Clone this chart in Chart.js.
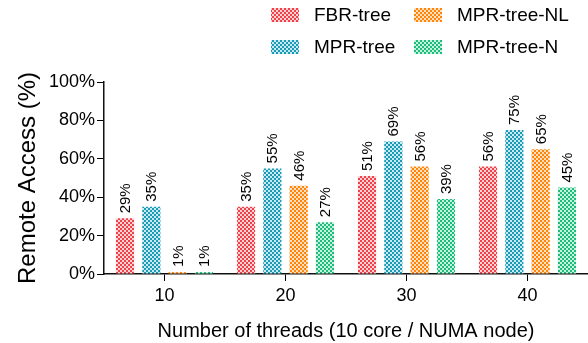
<!DOCTYPE html>
<html lang="en">
<head>
  <meta charset="UTF-8">
  <title>Remote Access</title>
  <script src="https://cdn.jsdelivr.net/npm/chart.js"></script>
  <style>
    body {
      margin: 0;
      background: #fff;
    }
    #wrap {
      width: 588px;
      height: 343px;
    }
  </style>
</head>
<body>
  <div id="wrap"><canvas id="remoteChart"></canvas></div>

  <script>
    const threads = ['10', '20', '30', '40'];
    const fbrTree = [29, 35, 51, 56];
    const mprTree = [35, 55, 69, 75];
    const mprTreeNL = [1, 46, 56, 65];
    const mprTreeN = [1, 27, 39, 45];
    const yTicks = [0, 20, 40, 60, 80, 100];

    const FONT = '"Liberation Sans", Arial, sans-serif';

    // small checkerboard fill, like the hatched bars in the original
    function checker(color, light) {
      const c = document.createElement('canvas');
      c.width = 4;
      c.height = 4;
      const g = c.getContext('2d');
      g.fillStyle = light;
      g.fillRect(0, 0, 4, 4);
      g.fillStyle = color;
      g.fillRect(0, 0, 2, 2);
      g.fillRect(2, 2, 2, 2);
      return g.createPattern(c, 'repeat');
    }

    function dataset(label, data, color, light) {
      return {
        label: label,
        data: data,
        backgroundColor: checker(color, light),
        borderWidth: 0
      };
    }

    const datasets = [
      dataset('FBR-tree', fbrTree, '#f0404a', '#fcd3d5'),
      dataset('MPR-tree', mprTree, '#1a9ab4', '#c9eaf0'),
      dataset('MPR-tree-NL', mprTreeNL, '#ff850a', '#ffe0c0'),
      dataset('MPR-tree-N', mprTreeN, '#1cbd7b', '#c8f0df')
    ];

    // rotated percent labels above each bar
    const valueLabels = {
      id: 'valueLabels',
      afterDatasetsDraw(chart) {
        const ctx = chart.ctx;
        ctx.save();
        ctx.font = '15px ' + FONT;
        ctx.fillStyle = '#000';
        ctx.textAlign = 'left';
        ctx.textBaseline = 'middle';
        chart.data.datasets.forEach((ds, i) => {
          chart.getDatasetMeta(i).data.forEach((bar, j) => {
            ctx.save();
            ctx.translate(bar.x, bar.y - 5);
            ctx.rotate(-Math.PI / 2);
            ctx.fillText(ds.data[j] + '%', 0, 1);
            ctx.restore();
          });
        });
        ctx.restore();
      }
    };

    // two-column legend in the top right corner
    const gridLegend = {
      id: 'gridLegend',
      afterDraw(chart) {
        const ctx = chart.ctx;
        const order = [0, 2, 1, 3];
        const cols = [271, 414];
        const rows = [15, 47];
        ctx.save();
        ctx.font = '19px ' + FONT;
        ctx.textBaseline = 'middle';
        ctx.textAlign = 'left';
        order.forEach((di, k) => {
          const ds = chart.data.datasets[di];
          const x = cols[k % 2];
          const y = rows[Math.floor(k / 2)];
          ctx.fillStyle = ds.backgroundColor;
          ctx.fillRect(x, y - 7, 28, 14);
          ctx.fillStyle = '#000';
          ctx.fillText(ds.label, x + 43, y + 1);
        });
        ctx.restore();
      }
    };

    new Chart(document.getElementById('remoteChart'), {
      type: 'bar',
      data: {
        labels: threads,
        datasets: datasets
      },
      options: {
        responsive: true,
        maintainAspectRatio: false,
        animation: false,
        layout: {
          padding: { top: 82, right: 0, left: 0, bottom: 0 }
        },
        datasets: {
          bar: {
            categoryPercentage: 0.87,
            barPercentage: 0.69
          }
        },
        plugins: {
          legend: { display: false },
          tooltip: { enabled: false }
        },
        scales: {
          x: {
            afterFit(s) { s.height = 69; },
            grid: {
              display: true,
              drawOnChartArea: false,
              offset: false,
              color: '#000',
              tickLength: 7,
              tickColor: '#000'
            },
            border: { display: true, color: '#111', width: 1.5 },
            ticks: {
              color: '#000',
              font: { family: FONT, size: 18 },
              padding: 4
            },
            title: {
              display: true,
              text: 'Number of threads (10 core / NUMA node)',
              color: '#000',
              font: { family: FONT, size: 20 },
              padding: { top: 6, bottom: 0 }
            }
          },
          y: {
            min: 0,
            max: 100,
            afterFit(s) { s.width = 104; },
            afterBuildTicks(s) {
              s.ticks = yTicks.map(v => ({ value: v }));
            },
            grid: {
              display: true,
              drawOnChartArea: false,
              color: '#000',
              tickLength: 7,
              tickColor: '#000'
            },
            border: { display: true, color: '#111', width: 1.5 },
            ticks: {
              color: '#000',
              font: { family: FONT, size: 18 },
              padding: 2,
              callback: v => v + '%'
            },
            title: {
              display: true,
              text: 'Remote Access (%)',
              color: '#000',
              font: { family: FONT, size: 24 },
              padding: { top: 14, bottom: 0 }
            }
          }
        }
      },
      plugins: [valueLabels, gridLegend]
    });
  </script>
</body>
</html>
